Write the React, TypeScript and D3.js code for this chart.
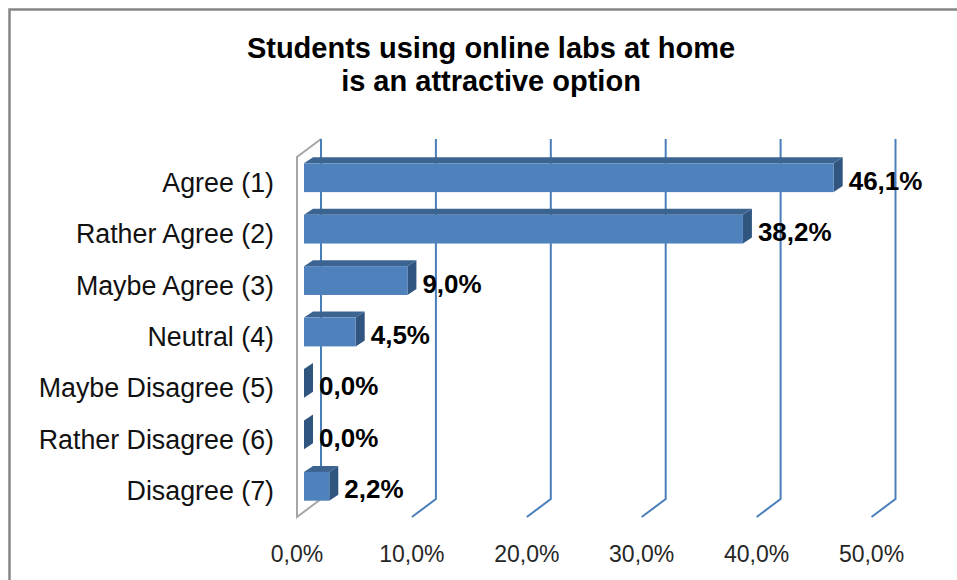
import React from "react";
import * as d3 from "d3";

const categories = [
  "Agree (1)",
  "Rather Agree (2)",
  "Maybe Agree (3)",
  "Neutral (4)",
  "Maybe Disagree (5)",
  "Rather Disagree (6)",
  "Disagree (7)",
];
const values = [46.1, 38.2, 9.0, 4.5, 0.0, 0.0, 2.2];
const ticks = [0, 10, 20, 30, 40, 50];
const titleLines = ["Students using online labs at home", "is an attractive option"];

const W = 957;
const H = 580;
// 3D depth offset from back wall to front edge of floor
const DX = -24;
const DY = 18;
// bar front offset from front plane, and bar depth
const BFX = 7;
const BFY = -5;
const BDX = 9;
const BDY = -6;

const fmt = (v: number) => v.toFixed(1).replace(".", ",") + "%";

export default function App() {
  const xBack = d3.scaleLinear().domain([0, 50]).range([321, 895.5]);
  const xFront = (v: number) => xBack(v) + DX;
  const top = 139;
  const bottom = 499;
  const yFront = d3
    .scaleBand<string>()
    .domain(categories)
    .range([top + DY, bottom + DY])
    .paddingInner(0.44)
    .paddingOuter(0.22);
  const bw = yFront.bandwidth();

  const blue = "#4a7ebb";
  const frontFill = "#4f81bd";
  const topFill = "#3c6491";
  const sideFill = "#30557f";

  return (
    <svg
      width={W}
      height={H}
      style={{ position: "absolute", left: 0, top: 0, background: "#fff" }}
      fontFamily="'Liberation Sans', Arial, sans-serif"
    >
      <rect x={0} y={0} width={W} height={H} fill="#fff" />
      <rect x={9.5} y={9.5} width={W + 20} height={H + 20} fill="none" stroke="#868686" strokeWidth={2.5} />

      {/* left wall */}
      <path
        d={`M${xBack(0)},${top} L${xFront(0)},${top + DY} V${bottom + DY} L${xBack(0)},${bottom}`}
        fill="none"
        stroke="#a6a6a6"
        strokeWidth={2}
      />
      {/* gridlines */}
      {ticks.map((t) =>
        t === 0 ? (
          <line key={t} x1={xBack(t)} x2={xBack(t)} y1={top} y2={bottom} stroke={blue} strokeWidth={2} />
        ) : (
          <path
            key={t}
            d={`M${xBack(t)},${top} V${bottom} L${xFront(t)},${bottom + DY}`}
            fill="none"
            stroke={blue}
            strokeWidth={2}
          />
        )
      )}

      {/* bars */}
      {categories.map((c, i) => {
        const v = values[i];
        const x0 = xFront(0) + BFX;
        const x1 = xFront(v) + BFX;
        const y0 = (yFront(c) as number) + BFY;
        const y1 = y0 + bw;
        return (
          <g key={c}>
            <path
              d={`M${x1},${y0} L${x1 + BDX},${y0 + BDY} V${y1 + BDY} L${x1},${y1} Z`}
              fill={sideFill}
            />
            {v > 0 && (
              <>
                <path
                  d={`M${x0},${y0} L${x0 + BDX},${y0 + BDY} H${x1 + BDX} L${x1},${y0} Z`}
                  fill={topFill}
                />
                <rect x={x0} y={y0} width={x1 - x0} height={bw} fill={frontFill} />
              </>
            )}
            <text
              x={x1 + 15}
              y={(yFront(c) as number) + bw / 2 - 2}
              dominantBaseline="central"
              fontWeight="bold"
              fontSize={26}
              fill="#000"
            >
              {fmt(v)}
            </text>
          </g>
        );
      })}

      {/* category labels */}
      {categories.map((c) => (
        <text
          key={c}
          x={274}
          y={(yFront(c) as number) + bw / 2}
          dominantBaseline="central"
          textAnchor="end"
          fontSize={26.8}
          fill="#111"
        >
          {c}
        </text>
      ))}

      {/* tick labels */}
      {ticks.map((t) => (
        <text key={t} x={xFront(t)} y={562} textAnchor="middle" fontSize={23} fill="#262626">
          {fmt(t)}
        </text>
      ))}

      {/* title */}
      {titleLines.map((l, i) => (
        <text key={l} x={491} y={58 + i * 33} textAnchor="middle" fontWeight="bold" fontSize={29} fill="#000">
          {l}
        </text>
      ))}
    </svg>
  );
}
